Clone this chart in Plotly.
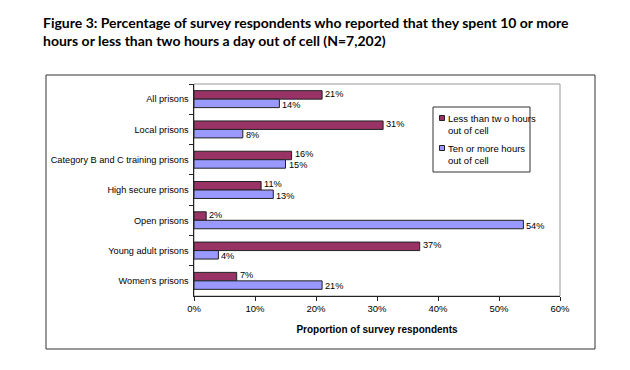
import plotly.graph_objects as go

categories = ["All prisons", "Local prisons", "Category B and C training prisons",
              "High secure prisons", "Open prisons", "Young adult prisons", "Women's prisons"]
less_than_two = [21, 31, 16, 11, 2, 37, 7]
ten_or_more = [14, 8, 15, 13, 54, 4, 21]
series_names = ["Less than tw o hours<br>out of cell", "Ten or more hours<br>out of cell"]
series_colors = ["#993366", "#9999FF"]
x_ticks = [0, 10, 20, 30, 40, 50, 60]
x_tick_labels = ["0%", "10%", "20%", "30%", "40%", "50%", "60%"]

font_main = "Liberation Sans, Arial, sans-serif"

fig = go.Figure()
for name, vals, color in zip(series_names, [less_than_two, ten_or_more], series_colors):
    fig.add_trace(go.Bar(
        y=categories, x=vals, orientation="h", name=name, showlegend=False,
        marker=dict(color=color, line=dict(color="#222222", width=1)),
        cliponaxis=False,
    ))

OFF = 8  # browser body margin
L, T, R, B = 194 - OFF, 84 - OFF, 560 - OFF, 296 - OFF
W, H = 630 - OFF, 370 - OFF
pw, ph = R - L, B - T

def px(x):
    return (x - OFF - L) / pw

def py(y):
    return (B - (y - OFF)) / ph

shapes = [
    dict(type="rect", xref="paper", yref="paper", x0=0, x1=1, y0=0, y1=1,
         line=dict(color="#999999", width=1), layer="below"),
    dict(type="rect", xref="paper", yref="paper", x0=px(46), x1=px(595),
         y0=py(349), y1=py(75), line=dict(color="#333333", width=1)),
    # legend box
    dict(type="rect", xref="paper", yref="paper", x0=px(433), x1=px(530),
         y0=py(172), y1=py(107), line=dict(color="#333333", width=1),
         fillcolor="white"),
]
annotations = [
    dict(text="Figure 3: Percentage of survey respondents who reported that they spent 10 or more<br>hours or less than two hours a day out of cell (N=7,202)",
         xref="paper", yref="paper", x=px(41), y=py(12), xanchor="left", yanchor="top",
         align="left", showarrow=False,
         font=dict(family="Lato, sans-serif", size=14.0, color="black", weight="bold")),
]
# value labels at the bar ends (red one slightly above, blue slightly below)
for vals, ys in [(less_than_two, 5.6), (ten_or_more, -5.6)]:
    for cat, v in zip(categories, vals):
        annotations.append(dict(text=f"{v}%", x=v, y=cat, xref="x", yref="y",
                                xanchor="left", yanchor="middle", xshift=2, yshift=ys,
                                showarrow=False, borderpad=0,
                                font=dict(family=font_main, size=9.2, color="black")))

legend_rows = [118, 148]
for name, color, yc in zip(series_names, series_colors, legend_rows):
    shapes.append(dict(type="rect", xref="paper", yref="paper",
                       x0=px(439.5), x1=px(444.5), y0=py(yc + 2.5), y1=py(yc - 2.5),
                       fillcolor=color, line=dict(color="#222222", width=1)))
    annotations.append(dict(text=name, xref="paper", yref="paper",
                            x=px(446), y=py(yc - 7), xanchor="left", yanchor="top",
                            align="left", showarrow=False,
                            font=dict(family=font_main, size=9.5, color="black")))

fig.update_layout(
    width=W, height=H,
    margin=dict(l=L, r=W - R, t=T, b=H - B),
    paper_bgcolor="white", plot_bgcolor="white",
    barmode="group", bargap=0.44, bargroupgap=0,
    showlegend=False,
    xaxis=dict(range=[0, 60], tickvals=x_ticks, ticktext=x_tick_labels, automargin=False,
               showgrid=False, zeroline=False, showline=True, linecolor="#222222",
               ticks="outside", ticklen=4, tickcolor="#222222",
               tickfont=dict(family=font_main, size=9.5, color="black"),
               title=dict(text="<b>Proportion of survey respondents</b>",
                          font=dict(family=font_main, size=10, color="black"), standoff=12)),
    yaxis=dict(autorange="reversed", showgrid=False, showline=True, linecolor="#222222",
               automargin=False,
               ticks="outside", tickson="boundaries", ticklen=4, tickcolor="#222222",
               tickfont=dict(family=font_main, size=9.2, color="black"), ticksuffix=" "),
    shapes=shapes,
    annotations=annotations,
)

fig.write_html("out.html")
